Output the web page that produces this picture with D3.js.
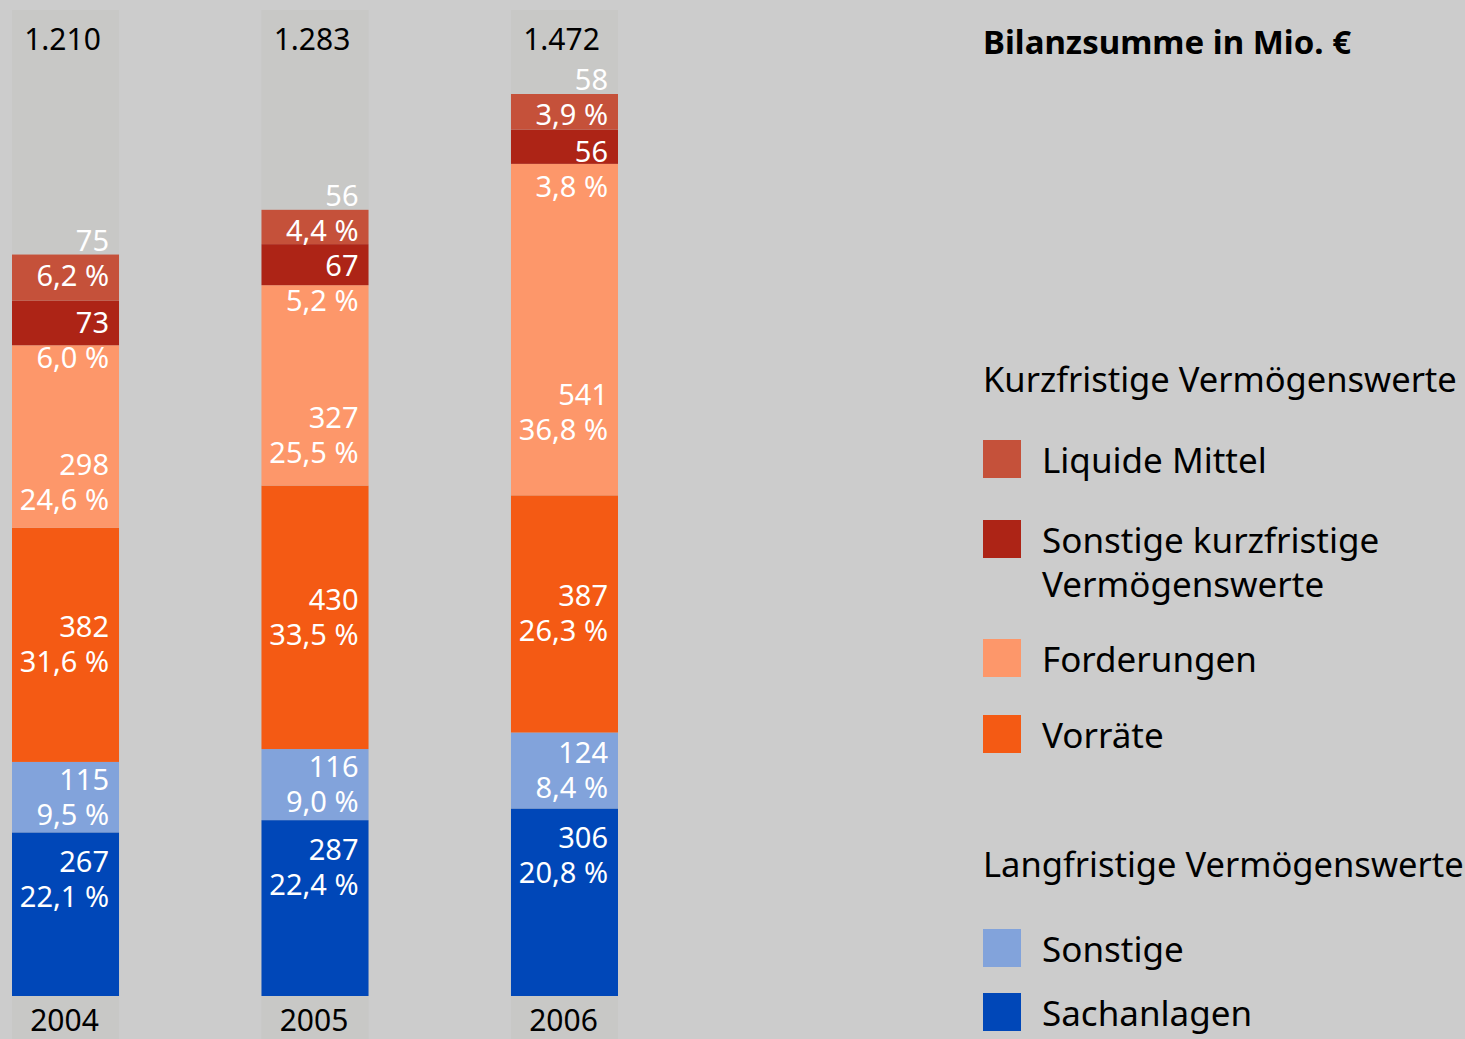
<!DOCTYPE html>
<html>
<head>
<meta charset="utf-8">
<script src="https://cdn.jsdelivr.net/npm/d3@7"></script>
<style>
  html, body { margin: 0; padding: 0; background: #cccccc; }
  svg { display: block; font-family: "Noto Sans", sans-serif; }
</style>
</head>
<body>
<svg class="chart" width="1465" height="1039"></svg>
<script>
// data, stacked bottom -> top
const years = ["2004", "2005", "2006"];
const totals = ["1.210", "1.283", "1.472"];
const categories = ["Sachanlagen", "Sonstige", "Vorräte", "Forderungen", "Sonstige kurzfristige Vermögenswerte", "Liquide Mittel"];
const sachanlagen = [267, 287, 306];
const sonstigeLang = [115, 116, 124];
const vorraete = [382, 430, 387];
const forderungen = [298, 327, 541];
const sonstigeKurz = [73, 67, 56];
const liquide = [75, 56, 58];
const pctSachanlagen = ["22,1 %", "22,4 %", "20,8 %"];
const pctSonstigeLang = ["9,5 %", "9,0 %", "8,4 %"];
const pctVorraete = ["31,6 %", "33,5 %", "26,3 %"];
const pctForderungen = ["24,6 %", "25,5 %", "36,8 %"];
const pctSonstigeKurz = ["6,0 %", "5,2 %", "3,8 %"];
const pctLiquide = ["6,2 %", "4,4 %", "3,9 %"];

const colors = ["#0047b8", "#82a3db", "#f45a14", "#fd976a", "#ad2416", "#c5513a"];

const series = [sachanlagen, sonstigeLang, vorraete, forderungen, sonstigeKurz, liquide];
const pcts = [pctSachanlagen, pctSonstigeLang, pctVorraete, pctForderungen, pctSonstigeKurz, pctLiquide];

const rows = years.map((y, i) => {
  const r = { year: y };
  categories.forEach((c, k) => r[c] = series[k][i]);
  return r;
});

const svg = d3.select(".chart");

const xScale = d3.scaleBand().domain(years).range([12, 618]).paddingInner(0.571).paddingOuter(0);
const yScale = d3.scaleLinear().domain([0, 1472]).range([996, 94]);

const stack = d3.stack().keys(categories)(rows);

// light grey column behind each bar
svg.selectAll(".col")
  .data(years)
  .enter()
  .append("rect")
  .attr("class", "col")
  .attr("x", d => xScale(d))
  .attr("y", 10)
  .attr("width", xScale.bandwidth())
  .attr("height", 1039 - 10)
  .attr("fill", "#c8c8c6");

// segments
const layers = svg.selectAll(".layer")
  .data(stack)
  .enter()
  .append("g")
  .attr("class", "layer")
  .attr("fill", (d, k) => colors[k]);

layers.selectAll("rect")
  .data(d => d)
  .enter()
  .append("rect")
  .attr("x", d => xScale(d.data.year))
  .attr("y", d => yScale(d[1]))
  .attr("width", xScale.bandwidth())
  .attr("height", d => yScale(d[0]) - yScale(d[1]));

// where the value/percent pair sits, per category (baseline of the value line)
function labelY(k, d) {
  const top = yScale(d[1]), bot = yScale(d[0]);
  if (k === 5) return top - 4;              // Liquide Mittel
  if (k === 4) return top + 32;             // Sonstige kurzfristige
  if (k === 3) return top + 0.75 * (bot - top) - 7.5; // Forderungen
  if (k === 0) return top + 40;             // Sachanlagen
  return (top + bot) / 2 - 7.5;             // Vorräte, Sonstige
}

stack.forEach((layer, k) => {
  const g = svg.append("g")
    .attr("fill", "#ffffff")
    .attr("font-size", 29)
    .attr("text-anchor", "end");
  layer.forEach((d, i) => {
    const x = xScale(d.data.year) + xScale.bandwidth() - 10;
    const y = labelY(k, d);
    g.append("text").attr("x", x).attr("y", y).text(series[k][i]);
    g.append("text").attr("x", x).attr("y", y + 35).text(pcts[k][i]);
  });
});

// totals on top
svg.selectAll(".total")
  .data(years)
  .enter()
  .append("text")
  .attr("class", "total")
  .attr("x", d => xScale(d) + xScale.bandwidth() / 2 - 3)
  .attr("y", 50)
  .attr("text-anchor", "middle")
  .attr("font-size", 30)
  .attr("fill", "#000")
  .text((d, i) => totals[i]);

// year labels
svg.selectAll(".year")
  .data(years)
  .enter()
  .append("text")
  .attr("class", "year")
  .attr("x", d => xScale(d) + xScale.bandwidth() / 2 - 1)
  .attr("y", 1031)
  .attr("text-anchor", "middle")
  .attr("font-size", 30)
  .attr("fill", "#000")
  .text(d => d);

// legend
const lx = 983;
svg.append("text")
  .attr("x", lx).attr("y", 54)
  .attr("font-size", 33).attr("font-weight", "bold")
  .text("Bilanzsumme in Mio. €");

svg.append("text")
  .attr("x", lx).attr("y", 392)
  .attr("font-size", 34.5)
  .text("Kurzfristige Vermögenswerte");

svg.append("text")
  .attr("x", lx).attr("y", 877)
  .attr("font-size", 34.5)
  .text("Langfristige Vermögenswerte");

const legendItems = [
  { k: 5, y: 440, lines: ["Liquide Mittel"] },
  { k: 4, y: 520, lines: ["Sonstige kurzfristige", "Vermögenswerte"] },
  { k: 3, y: 639, lines: ["Forderungen"] },
  { k: 2, y: 715, lines: ["Vorräte"] },
  { k: 1, y: 929, lines: ["Sonstige"] },
  { k: 0, y: 993, lines: ["Sachanlagen"] }
];

const leg = svg.selectAll(".leg")
  .data(legendItems)
  .enter()
  .append("g")
  .attr("class", "leg")
  .attr("transform", d => `translate(${lx},${d.y})`);

leg.append("rect")
  .attr("width", 38).attr("height", 38)
  .attr("fill", d => colors[d.k]);

leg.append("text")
  .attr("x", 59).attr("y", 33)
  .attr("font-size", 35)
  .selectAll("tspan")
  .data(d => d.lines)
  .enter()
  .append("tspan")
  .attr("x", 59)
  .attr("dy", (d, i) => i ? 44 : 0)
  .text(d => d);
</script>
</body>
</html>
